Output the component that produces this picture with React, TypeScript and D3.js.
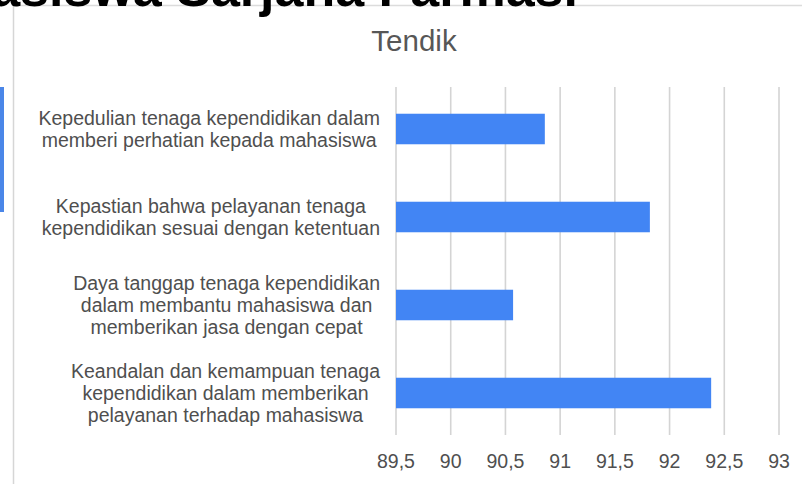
import React, { useMemo } from 'react';
import * as d3 from 'd3';

const categories: string[][] = [
  ['Kepedulian tenaga kependidikan dalam', 'memberi perhatian kepada mahasiswa'],
  ['Kepastian bahwa pelayanan tenaga', 'kependidikan sesuai dengan ketentuan'],
  ['Daya tanggap tenaga kependidikan', 'dalam membantu mahasiswa dan', 'memberikan jasa dengan cepat'],
  ['Keandalan dan kemampuan tenaga', 'kependidikan dalam memberikan', 'pelayanan terhadap mahasiswa'],
];
const values: number[] = [90.86, 91.82, 90.57, 92.38];
const tickValues: number[] = [89.5, 90, 90.5, 91, 91.5, 92, 92.5, 93];
const title = 'Tendik';
const headerText = 'Mahasiswa Sarjana Farmasi';

const W = 802;
const H = 484;
const FONT = '"Liberation Sans", Arial, sans-serif';
const LABEL_SIZE = 19.5;

const locale = d3.formatLocale({ decimal: ',', thousands: '.', grouping: [3], currency: ['', ''] });
const fmt = locale.format('~g');

function measure(text: string, size: number): number {
  const c = document.createElement('canvas');
  const ctx = c.getContext('2d');
  if (!ctx) return text.length * size * 0.5;
  ctx.font = `${size}px "Liberation Sans", Arial, sans-serif`;
  return ctx.measureText(text).width;
}

export default function App() {
  const x = d3.scaleLinear().domain([89.5, 93]).range([396, 779]);
  const y = d3
    .scaleBand<number>()
    .domain(categories.map((_, i) => i))
    .range([85, 437])
    .paddingInner(0.653)
    .paddingOuter(0.3265);

  const blockWidths = useMemo(
    () => categories.map((lines) => Math.max(...lines.map((l) => measure(l, LABEL_SIZE)))),
    []
  );

  const labelRight = 380;
  const lineH = 21.7;

  return (
    <svg
      width={W}
      height={H}
      style={{ position: 'absolute', left: 0, top: 0, display: 'block', background: '#fff' }}
    >
      <rect x={0} y={0} width={W} height={H} fill="#ffffff" />
      {/* chart frame */}
      <line x1={13} x2={W} y1={5.5} y2={5.5} stroke="#dcdcdc" strokeWidth={1.5} />
      <line x1={13.5} x2={13.5} y1={5} y2={H} stroke="#d6d6d6" strokeWidth={1.5} />
      {/* header text cut off at top */}
      <text
        x={578}
        y={6}
        textAnchor="end"
        fontFamily={FONT}
        fontWeight="bold"
        fontSize={52}
        fill="#000"
      >
        {headerText}
      </text>
      {/* left blue marker */}
      <rect x={0} y={87} width={4} height={125} fill="#4a86e8" />
      {/* title */}
      <text x={414} y={50.5} textAnchor="middle" fontFamily={FONT} fontSize={29.5} fill="#575757">
        {title}
      </text>
      {/* gridlines */}
      {tickValues.map((t) => (
        <line key={'g' + t} x1={x(t)} x2={x(t)} y1={87} y2={435} stroke="#d4d4d4" strokeWidth={1.6} />
      ))}
      {/* bars */}
      {values.map((v, i) => (
        <rect
          key={'b' + i}
          x={x(89.5)}
          y={y(i)}
          width={x(v) - x(89.5)}
          height={y.bandwidth()}
          fill="#4285f4"
        />
      ))}
      {/* category labels */}
      {categories.map((lines, i) => {
        const cy = (y(i) as number) + y.bandwidth() / 2;
        const cx = labelRight - blockWidths[i] / 2;
        return (
          <g key={'l' + i}>
            {lines.map((l, j) => (
              <text
                key={j}
                x={cx}
                y={cy + (j - (lines.length - 1) / 2) * lineH + 7}
                textAnchor="middle"
                fontFamily={FONT}
                fontSize={LABEL_SIZE}
                fill="#4f4f4f"
              >
                {l}
              </text>
            ))}
          </g>
        );
      })}
      {/* tick labels */}
      {tickValues.map((t) => (
        <text
          key={'t' + t}
          x={x(t)}
          y={468}
          textAnchor="middle"
          fontFamily={FONT}
          fontSize={LABEL_SIZE}
          fill="#4f4f4f"
        >
          {fmt(t)}
        </text>
      ))}
    </svg>
  );
}
